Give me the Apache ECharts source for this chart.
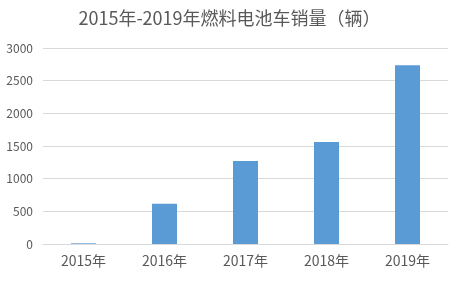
<!DOCTYPE html>
<html><head><meta charset="utf-8">
<script src="https://cdn.jsdelivr.net/npm/echarts@6/dist/echarts.min.js"></script>
<style>html,body{margin:0;padding:0;background:#fff}#c{width:459px;height:282px}</style>
</head><body><div id="c"></div>
<script>
const titleText = '2015年-2019年燃料电池车销量（辆）';
const categories = ['2015年','2016年','2017年','2018年','2019年'];
const sales = [10, 615, 1272, 1560, 2735];
const yMin = 0, yMax = 3000, yStep = 500;

const chart = echarts.init(document.getElementById('c'));
const font = '"Noto Sans CJK SC", "Noto Sans", sans-serif';
chart.setOption({
  animation: false,
  title: {text: titleText, left: 'center', top: 4,
    textStyle: {fontFamily: font, fontSize: 18, fontWeight: 'normal', color: '#595959'}},
  grid: {left: 43, right: 11, top: 48, bottom: 38},
  xAxis: {type: 'category', data: categories,
    axisLine: {lineStyle: {color: '#d9d9d9'}}, axisTick: {show: false},
    axisLabel: {fontFamily: font, fontSize: 14, color: '#595959', margin: 10}},
  yAxis: {type: 'value', min: yMin, max: yMax, interval: yStep,
    axisLine: {show: false}, axisTick: {show: false},
    splitLine: {lineStyle: {color: '#d9d9d9'}},
    axisLabel: {fontFamily: font, fontSize: 12, color: '#595959', margin: 10,
      formatter: v => String(v)}},
  series: [{type: 'bar', data: sales, barWidth: 25, itemStyle: {color: '#5b9bd5'}}]
});
</script></body></html>
